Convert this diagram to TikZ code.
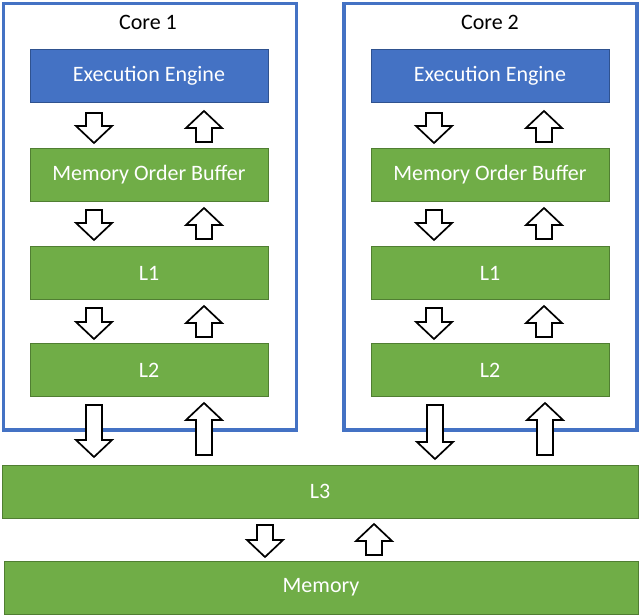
\documentclass[tikz,border=0pt]{standalone}
\usepackage{fontspec}
\setmainfont{Carlito}
\definecolor{oblue}{HTML}{4472C4}
\definecolor{obluedark}{HTML}{2F528F}
\definecolor{ogreen}{HTML}{70AD47}
\definecolor{ogreendark}{HTML}{507E32}
\newcommand{\darr}[3]{\draw[blockarrow] ({#1-8},#2) -- ({#1+8},#2) -- ({#1+8},{#3-17}) -- ({#1+18},{#3-17}) -- (#1,#3) -- ({#1-18},{#3-17}) -- ({#1-8},{#3-17}) -- cycle;}
\newcommand{\uarr}[3]{\draw[blockarrow] ({#1-8},#2) -- ({#1+8},#2) -- ({#1+8},{#3+17}) -- ({#1+18},{#3+17}) -- (#1,#3) -- ({#1-18},{#3+17}) -- ({#1-8},{#3+17}) -- cycle;}
\begin{document}
\begin{tikzpicture}[x=1pt,y=-1pt,
  txt/.style={font=\fontsize{22}{26}\selectfont},
  gbox/.style={txt, draw=ogreendark, fill=ogreen, line width=0.7pt, text=white, inner sep=0pt, minimum width=238pt, minimum height=53pt},
  bbox/.style={gbox, draw=obluedark, fill=oblue},
  frame/.style={draw=oblue, line width=3.2pt, inner sep=0pt, minimum width=293pt, minimum height=426.5pt},
  blockarrow/.style={draw=black, fill=white, line width=1.7pt, line join=miter}]
\useasboundingbox (0,0) rectangle (640,615);
\fill[white] (0,0) rectangle (640,615);
% core frames
\node[frame] (core1) at (150,216.75) {};
\node[frame] (core2) at (490.5,216.75) {};
\node[txt] (t1) at (148,22) {Core 1};
\node[txt] (t2) at (490,22) {Core 2};
% core 1
\node[bbox] (ee1) at (149,75.5) {Execution Engine};
\node[gbox] (mob1) at (149,175) {Memory Order Buffer};
\node[gbox] (la1) at (149,273) {L1};
\node[gbox] (lb1) at (149,370) {L2};
% core 2
\node[bbox] (ee2) at (490,75.5) {Execution Engine};
\node[gbox] (mob2) at (490,175) {Memory Order Buffer};
\node[gbox] (la2) at (490,273) {L1};
\node[gbox] (lb2) at (490,370) {L2};
% shared
\node[gbox, minimum width=636pt] (l3) at (320,491.5) {L3};
\node[gbox, minimum width=634pt] (mem) at (321,587.5) {Memory};
% arrows core 1
\darr{94}{113}{143} \uarr{204}{142}{111}
\darr{94}{210}{240} \uarr{204}{239}{208}
\darr{94}{308}{339} \uarr{204}{337}{306}
% arrows core 2
\darr{434}{113}{143} \uarr{544}{142}{111}
\darr{434}{210}{240} \uarr{544}{239}{208}
\darr{434}{308}{339} \uarr{544}{337}{306}
% to L3
\darr{94}{405}{457} \uarr{204}{455}{403}
\darr{435}{405}{459} \uarr{545}{455}{403}
% to memory
\darr{265}{525}{557} \uarr{374}{555}{524}
\end{tikzpicture}
\end{document}
